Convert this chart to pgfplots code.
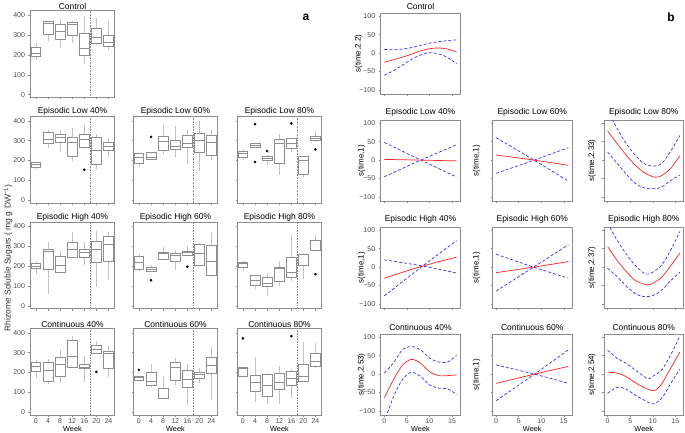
\documentclass[border=0pt]{standalone}
\usepackage{fontspec}
\setmainfont{Liberation Sans}
\usepackage{pgfplots}
\pgfplotsset{compat=1.18}
\usepgfplotslibrary{statistics}

\definecolor{frm}{HTML}{8C8C8C}
\definecolor{boxc}{HTML}{8E8E8E}
\definecolor{whc}{HTML}{C2C2C2}
\definecolor{lbl}{HTML}{4D4D4D}
\definecolor{rline}{HTML}{FF2020}
\definecolor{bline}{HTML}{3030FF}

\pgfplotsset{
  base/.style={scale only axis, anchor=south west, tick align=outside,
    xtick pos=left, ytick pos=left, major tick length=2pt,
    axis line style={frm, line width=0.8pt}, tick style={frm, line width=0.5pt},
    ticklabel style={font=\fontsize{7}{8}\selectfont, text=lbl},
    xticklabel style={inner sep=1pt},
    xticklabels=\empty, yticklabels=\empty,
    title style={font=\fontsize{8.5}{10}\selectfont, inner sep=0pt, yshift=-5pt},
    xlabel style={font=\fontsize{7.3}{8}\selectfont, at={(axis description cs:0.5,0)}, anchor=center, yshift=-13.8pt},
    ylabel style={font=\fontsize{8}{9}\selectfont, anchor=center}},
  lp/.style={base, width=84pt, height=86.6pt, xmin=-1.8, xmax=26, ymin=-14, ymax=422,
    xtick={0,4,...,24}, ytick={0,100,...,400}, boxplot/draw direction=y},
  lab/.style={yticklabels={0,100,200,300,400}},
  wk/.style={xticklabels={0,4,8,12,16,20,24}, xlabel=Week},
  rp/.style={base, width=79.5pt, height=81pt, xmin=-0.8, xmax=16.8, ymin=-111, ymax=109,
    xtick={0,5,10,15}, ytick={-100,-50,0,50,100}, title style={yshift=2.2pt}},
  yl/.style={ylabel style={at={(axis description cs:#1,0.5)}}},
  rlab/.style={yticklabels={−100,−50,0,50,100}},
  rwk/.style={xticklabels={0,5,10,15}, xlabel=Week},
  bx/.style={draw=boxc, line width=0.6pt, boxplot/draw direction=y, boxplot/box extend=3.2,
    boxplot/whisker extend=0, boxplot/every whisker/.style={draw=whc}},
  rd/.style={rline, line width=0.7pt, smooth},
  bl/.style={bline, line width=0.7pt, dash pattern=on 3pt off 2pt, smooth},
}

% week, lower whisker, lower quartile, median, upper quartile, upper whisker
\newcommand\bx[6]{\addplot[bx, boxplot prepared={draw position=#1, lower whisker=#2,
  lower quartile=#3, median=#4, upper quartile=#5, upper whisker=#6}] coordinates {};}
\newcommand\outl[1]{\addplot[only marks, mark=*, mark size=1.1pt, black] coordinates {#1};}
\newcommand\vl{\addplot[frm, densely dotted, line width=0.6pt] coordinates {(18,-14) (18,422)};}
% upper band, lower band, fit
\newcommand\gam[3]{\addplot[bl] coordinates {#1}; \addplot[bl] coordinates {#2}; \addplot[rd] coordinates {#3};}

\begin{document}
\begin{tikzpicture}
\path[use as bounding box] (0,0) rectangle (685pt,432pt);

% ---------------- panel a ----------------
\begin{axis}[lp, lab, at={(30.5pt,334.6pt)}, title={Control}]
\vl
\bx{0}{176}{195}{207}{240}{260}
\bx{4}{270}{302}{358}{370}{372}
\bx{8}{237}{277}{319}{355}{380}
\bx{12}{260}{301}{353}{366}{370}
\bx{16}{161}{198}{232}{311}{397}
\bx{20}{254}{257}{287}{333}{387}
\bx{24}{224}{245}{265}{299}{371}
\end{axis}

\begin{axis}[lp, lab, at={(30.5pt,229pt)}, title={Episodic Low 40\%}]
\vl
\bx{0}{155}{166}{180}{190}{195}
\bx{4}{264}{288}{305}{341}{353}
\bx{8}{247}{293}{315}{332}{356}
\bx{12}{195}{222}{293}{319}{364}
\bx{16}{258}{268}{305}{332}{381}
\bx{20}{156}{183}{251}{319}{331}
\bx{24}{220}{251}{271}{293}{307}
\outl{(16,153)}
\end{axis}

\begin{axis}[lp, at={(133.5pt,229pt)}, title={Episodic Low 60\%}]
\vl
\bx{0}{169}{188}{217}{237}{237}
\bx{4}{200}{208}{214}{239}{239}
\bx{8}{234}{251}{297}{322}{378}
\bx{12}{217}{254}{273}{302}{373}
\bx{16}{183}{264}{285}{327}{356}
\bx{20}{146}{242}{302}{339}{398}
\bx{24}{200}{225}{290}{327}{356}
\outl{(4,319)}
\end{axis}

\begin{axis}[lp, at={(237.5pt,229pt)}, title={Episodic Low 80\%}]
\vl
\bx{0}{203}{217}{237}{247}{259}
\bx{4}{264}{266}{278}{285}{286}
\bx{8}{178}{200}{212}{220}{229}
\bx{12}{129}{186}{285}{305}{331}
\bx{16}{242}{259}{285}{314}{314}
\bx{20}{119}{129}{200}{220}{222}
\bx{24}{298}{300}{314}{322}{349}
\outl{(4,383) (4,192) (8,247) (16,386) (24,256)}
\end{axis}

\begin{axis}[lp, lab, at={(30.5pt,123.3pt)}, title={Episodic High 40\%}]
\vl
\bx{0}{160}{188}{197}{213}{224}
\bx{4}{62}{185}{274}{286}{323}
\bx{8}{168}{171}{207}{252}{277}
\bx{12}{244}{247}{286}{319}{370}
\bx{16}{205}{244}{269}{286}{324}
\bx{20}{96}{218}{286}{324}{375}
\bx{24}{134}{224}{308}{353}{373}
\end{axis}

\begin{axis}[lp, at={(133.5pt,123.3pt)}, title={Episodic High 60\%}]
\vl
\bx{0}{180}{182}{218}{252}{261}
\bx{4}{173}{173}{185}{193}{207}
\bx{8}{230}{235}{266}{272}{297}
\bx{12}{182}{224}{257}{264}{281}
\bx{16}{252}{255}{272}{277}{303}
\bx{20}{202}{207}{266}{311}{319}
\bx{24}{146}{156}{224}{306}{366}
\outl{(4,129) (16,197)}
\end{axis}

\begin{axis}[lp, at={(237.5pt,123.3pt)}, title={Episodic High 80\%}]
\vl
\bx{0}{176}{193}{213}{222}{227}
\bx{4}{84}{104}{131}{155}{156}
\bx{8}{54}{101}{114}{143}{168}
\bx{12}{101}{126}{188}{193}{227}
\bx{16}{126}{143}{171}{244}{356}
\bx{20}{138}{202}{205}{261}{264}
\bx{24}{274}{282}{282}{328}{358}
\outl{(24,160)}
\end{axis}

\begin{axis}[lp, lab, wk, at={(30.5pt,17pt)}, title={Continuous 40\%}]
\vl
\bx{0}{170}{208}{233}{250}{263}
\bx{4}{142}{158}{212}{250}{267}
\bx{8}{147}{183}{242}{275}{313}
\bx{12}{225}{225}{283}{363}{383}
\bx{16}{150}{220}{225}{242}{283}
\bx{20}{295}{295}{317}{337}{358}
\bx{24}{175}{222}{297}{308}{333}
\outl{(20,203)}
\end{axis}

\begin{axis}[lp, wk, at={(133.5pt,17pt)}, title={Continuous 60\%}]
\vl
\bx{0}{163}{163}{175}{180}{180}
\bx{4}{125}{137}{158}{200}{245}
\bx{8}{67}{70}{70}{122}{175}
\bx{12}{138}{163}{225}{253}{272}
\bx{16}{37}{125}{167}{212}{242}
\bx{20}{145}{172}{192}{203}{225}
\bx{24}{63}{195}{237}{275}{328}
\outl{(0,213)}
\end{axis}

\begin{axis}[lp, wk, at={(237.5pt,17pt)}, title={Continuous 80\%}]
\vl
\bx{0}{170}{183}{220}{224}{226}
\bx{4}{53}{103}{150}{187}{280}
\bx{8}{42}{80}{137}{192}{197}
\bx{12}{42}{113}{150}{197}{233}
\bx{16}{70}{138}{170}{208}{220}
\bx{20}{150}{158}{183}{242}{355}
\bx{24}{225}{233}{258}{295}{347}
\outl{(0,372) (16,383)}
\end{axis}

\node[rotate=90, font=\fontsize{8.5}{9}\selectfont, text=black!80] at (8pt,174pt)
  {Rhizome Soluble Sugars ( mg g DW\textsuperscript{−1})};
\node[font=\bfseries\fontsize{12}{12}\selectfont] at (306pt,415pt) {a};

% ---------------- panel b ----------------
\begin{axis}[rp, rlab, yl=-0.28, at={(380.7pt,338pt)}, title={Control}, ylabel={s(time,2.2)}]
\gam{(0,10) (2,9) (4,11) (6,15) (8,21) (10,27) (12,31) (14,34) (16,36)}
    {(0,-60) (2,-48) (4,-33) (6,-17) (8,-5) (10,1) (12,-2) (14,-12) (16,-29)}
    {(0,-25) (2,-18) (4,-11) (6,-3) (8,6) (10,12) (12,14) (14,11) (16,3)}
\end{axis}

\begin{axis}[rp, rlab, yl=-0.24, at={(380.7pt,231pt)}, title={Episodic Low 40\%}, ylabel={s(time,1)}]
\gam{(0,48) (8.1,0) (16,-46)}
    {(0,-45) (8.1,0) (16,42)}
    {(0,2) (8.1,0) (16,-2)}
\end{axis}

\begin{axis}[rp, yl=-0.2, at={(492.5pt,231pt)}, title={Episodic Low 60\%}, ylabel={s(time,1)}]
\gam{(0,61) (8.4,0) (16,-57)}
    {(0,-36) (8.4,0) (16,34)}
    {(0,14) (8.4,0) (16,-14)}
\end{axis}

\begin{axis}[rp, yl=-0.15, at={(604pt,231pt)}, title={Episodic Low 80\%}, ylabel={s(time,2.33)}]
\gam{(0,136) (2,88) (4,47) (6,15) (8,-9) (10,-16) (12,-9) (14,25) (16,67)}
    {(0,22) (2,-7) (4,-36) (6,-62) (8,-75) (10,-78) (12,-73) (14,-55) (16,-41)}
    {(0,79) (2,47) (4,15) (6,-12) (8,-33) (10,-45) (11,-46) (12,-42) (14,-22) (16,12)}
\end{axis}

\begin{axis}[rp, rlab, yl=-0.24, at={(380.7pt,124pt)}, title={Episodic High 40\%}, ylabel={s(time,1)}]
\gam{(0,20) (8.5,3) (16,-16)}
    {(0,-78) (8.5,3) (16,72)}
    {(0,-30) (8.5,3) (16,27)}
\end{axis}

\begin{axis}[rp, yl=-0.2, at={(492.5pt,124pt)}, title={Episodic High 60\%}, ylabel={s(time,1)}]
\gam{(0,35) (8.3,0) (16,-30)}
    {(0,-65) (8.3,0) (16,61)}
    {(0,-15) (8.3,0) (16,15)}
\end{axis}

\begin{axis}[rp, yl=-0.15, at={(604pt,124pt)}, title={Episodic High 80\%}, ylabel={s(time,2.37)}]
\gam{(0,120) (2,75) (4,38) (6,6) (8,-16) (9,-19) (10,-14) (12,6) (14,47) (16,97)}
    {(0,-3) (2,-25) (4,-50) (6,-71) (8,-80) (10,-77) (12,-62) (14,-36) (16,-14)}
    {(0,56) (2,20) (4,-10) (6,-35) (8,-46) (9,-48) (10,-44) (12,-27) (14,4) (16,38)}
\end{axis}

\begin{axis}[rp, rlab, rwk, yl=-0.24, at={(380.7pt,17pt)}, title={Continuous 40\%}, ylabel={s(time,2.53)}]
\gam{(0,3) (2,30) (4,66) (6,75) (8,66) (10,44) (12,33) (14,33) (16,51)}
    {(0,-131) (2,-62) (4,-15) (6,5) (8,-6) (10,-29) (12,-38) (14,-40) (16,-55)}
    {(0,-64) (2,-16) (4,24) (6,40) (8,30) (10,7) (12,-4) (14,-4) (16,-2)}
\end{axis}

\begin{axis}[rp, rwk, yl=-0.2, at={(492.5pt,17pt)}, title={Continuous 60\%}, ylabel={s(time,1)}]
\gam{(0,25) (8.5,0) (16,-25)}
    {(0,-72) (8.5,0) (16,66)}
    {(0,-25) (8.5,0) (16,21)}
\end{axis}

\begin{axis}[rp, rwk, yl=-0.15, at={(604pt,17pt)}, title={Continuous 80\%}, ylabel={s(time,2.54)}]
\gam{(0,65) (2,44) (4,30) (6,12) (8,-6) (9,-13) (10,-6) (12,12) (14,53) (16,104)}
    {(0,-52) (2,-36) (4,-40) (6,-56) (8,-70) (10,-81) (12,-65) (14,-25) (16,14)}
    {(0,5) (2,3) (4,-6) (6,-22) (8,-36) (10,-45) (11,-40) (12,-26) (14,17) (16,60)}
\end{axis}

\node[font=\bfseries\fontsize{12}{12}\selectfont] at (671pt,415pt) {b};
\end{tikzpicture}
\end{document}
